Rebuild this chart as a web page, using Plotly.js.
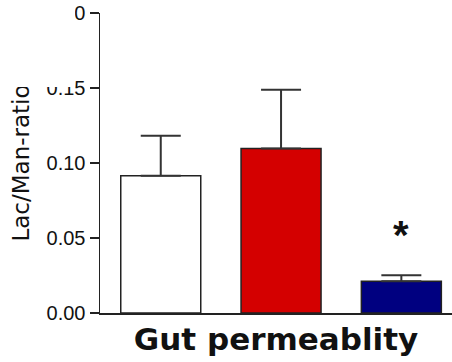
<!DOCTYPE html>
<html>
<head>
<meta charset="utf-8">
<script src="https://cdn.plot.ly/plotly-3.0.1.min.js"></script>
<style>
  html, body { margin: 0; padding: 0; background: #fff; }
  #wrap { position: relative; width: 452px; height: 362px; }
  #chart { width: 452px; height: 362px; }
  #mask { position: absolute; left: 0; top: 0; width: 75px; height: 87px; background: #fff; }
</style>
</head>
<body>
<div id="wrap">
  <div id="chart"></div>
  <div id="mask"></div>
</div>
<script>
// Data
var groups = ['Group A', 'Group B', 'Group C'];
var means = [0.0915, 0.1097, 0.0211];
var sems = [0.0267, 0.0392, 0.0040];
var barColors = ['#ffffff', '#d40000', '#000080'];
var significance = ['', '', '*'];
var yTickVals = [0, 0.05, 0.10, 0.15, 0.20];
var yTickText = ['0.00', '0.05', '0.10', '0.15', '0.20'];
var yTitle = 'Lac/Man-ratio';
var xTitle = 'Gut permeablity';

var trace = {
  type: 'bar',
  x: groups,
  y: means,
  marker: { color: barColors, line: { color: '#222', width: 1.5 } },
  error_y: {
    type: 'data', symmetric: false,
    array: sems,
    arrayminus: sems.map(function () { return 0; }),
    width: 20, thickness: 2, color: '#333'
  },
  hoverinfo: 'none'
};

var annotations = [];
significance.forEach(function (s, i) {
  if (s) {
    annotations.push({
      x: groups[i], y: means[i] + sems[i], xref: 'x', yref: 'y',
      text: s, showarrow: false, yanchor: 'bottom', yshift: 16,
      font: { family: 'Liberation Sans, Arial, sans-serif', size: 40, color: '#111', weight: 'bold' }
    });
  }
});

var layout = {
  width: 452, height: 362,
  margin: { l: 100, r: 0, t: 13, b: 49, pad: 0 },
  paper_bgcolor: '#fff', plot_bgcolor: '#fff',
  showlegend: false,
  bargap: 0.335,
  xaxis: {
    type: 'category',
    range: [-0.505, 2.421],
    showticklabels: false, ticks: '',
    showline: true, linecolor: '#222', linewidth: 1.5,
    showgrid: false, zeroline: false,
    title: { text: xTitle, standoff: 15,
      font: { family: 'DejaVu Sans, sans-serif', size: 31, color: '#111', weight: 'bold' } }
  },
  yaxis: {
    range: [0, 0.2],
    tickvals: yTickVals, ticktext: yTickText,
    ticks: 'outside', ticklen: 9, tickwidth: 1.5, tickcolor: '#222',
    showline: true, linecolor: '#222', linewidth: 1.5,
    showgrid: false, zeroline: false,
    tickfont: { family: 'Liberation Sans, Arial, sans-serif', size: 20, color: '#111' },
    title: { text: yTitle, standoff: 10,
      font: { family: 'DejaVu Sans, sans-serif', size: 23, color: '#111' } }
  },
  annotations: annotations
};

Plotly.newPlot('chart', [trace], layout, { staticPlot: true });
</script>
</body>
</html>
